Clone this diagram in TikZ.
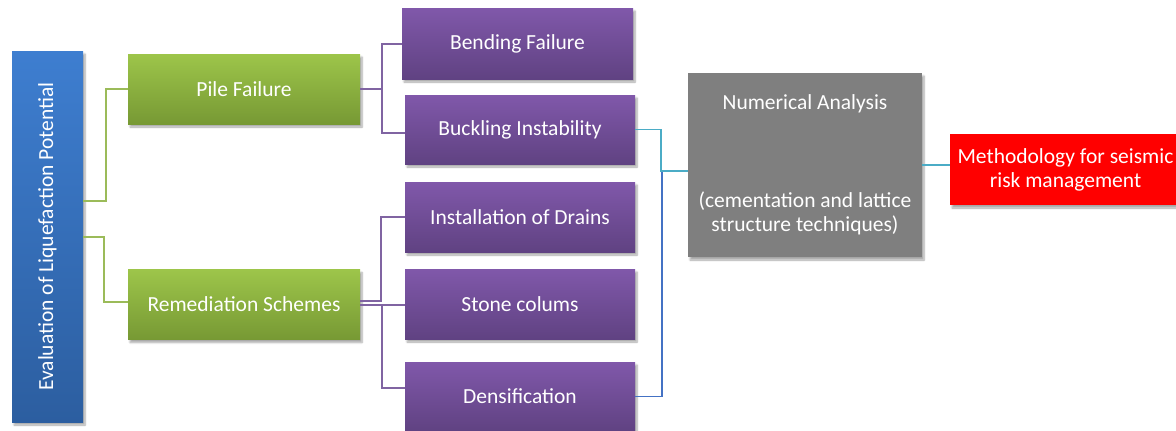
\documentclass[tikz,border=0pt]{standalone}
\usepackage{fontspec}
\setmainfont{Carlito}
\usetikzlibrary{calc,shadows.blur}

\definecolor{bluetop}{RGB}{62,126,208}
\definecolor{bluebot}{RGB}{44,94,160}
\definecolor{greentop}{RGB}{157,197,74}
\definecolor{greenbot}{RGB}{119,153,52}
\definecolor{purptop}{RGB}{128,88,170}
\definecolor{purpbot}{RGB}{96,66,130}
\definecolor{graybox}{RGB}{127,127,127}
\definecolor{redbox}{RGB}{255,0,0}
\definecolor{glinec}{RGB}{155,187,89}
\definecolor{plinec}{RGB}{128,100,162}
\definecolor{clinec}{RGB}{75,172,198}
\definecolor{blinec}{RGB}{68,114,196}

\begin{document}
\begin{tikzpicture}[x=1pt,y=-1pt,
  box/.style={rectangle, inner sep=0pt, text=white, align=center,
    font=\fontsize{21.5}{24}\selectfont,
    blur shadow={shadow xshift=2pt, shadow yshift=-3pt,
      shadow blur steps=6, shadow opacity=35}},
  evalbox/.style={box, minimum width=71pt, minimum height=371pt,
    top color=bluetop, bottom color=bluebot},
  greenbox/.style={box, minimum width=232pt, minimum height=70pt,
    top color=greentop, bottom color=greenbot},
  purpbox/.style={box, minimum width=230pt, minimum height=70pt,
    top color=purptop, bottom color=purpbot},
  gline/.style={draw=glinec, line width=2pt},
  pline/.style={draw=plinec, line width=2pt},
  cline/.style={draw=clinec, line width=1.6pt},
  bline/.style={draw=blinec, line width=1.6pt}]

\useasboundingbox (0,0) rectangle (1176,431);

% boxes
\node[evalbox] (eval) at (47.5,236.5) {\rotatebox{90}{Evaluation of Liquefaction Potential}};

\node[greenbox] (pile) at (244,89) {Pile Failure};
\node[greenbox] (rem) at (244,304.5) {Remediation Schemes};

\node[purpbox, minimum width=231pt, minimum height=71pt] (bend) at (517.5,43.5) {Bending Failure};
\node[purpbox, minimum height=69pt] (buck) at (520,129.5) {Buckling Instability};
\node[purpbox] (drain) at (520,217) {Installation of Drains};
\node[purpbox] (stone) at (520,304) {Stone colums};
\node[purpbox, minimum height=69pt] (dens) at (520,396.5) {Densification};

\node[box, fill=graybox, minimum width=234pt, minimum height=184pt] (num) at (805,165)
  {Numerical Analysis\\[73.5pt](cementation and lattice\\structure techniques)};

\node[box, fill=redbox, minimum width=231pt, minimum height=71pt] (meth) at (1065.5,169.5)
  {Methodology for seismic\\risk management};

% connectors from the evaluation column
\draw[gline] ($(eval.east)+(0,-35.5)$) -- ++(23,0) |- (pile.west);
\draw[gline] ($(eval.east)+(0,0.5)$) -- ++(21,0) |- ($(rem.west)+(0,-2.5)$);

% pile failure branches
\draw[pline] (pile.east) -- ++(22,0) coordinate (pj) |- (bend.west);
\draw[pline] (pj) |- ($(buck.west)+(0,3.5)$);

% remediation branches
\draw[pline] ($(rem.east)+(0,-3.5)$) -- ++(21,0) |- (drain.west);
\draw[pline] ($(rem.east)+(0,0.5)$) -- ($(stone.west)+(0,1)$);
\draw[pline] ($(rem.east)+(22,0.5)$) |- ($(dens.west)+(0,-8.5)$);

% links into the numerical analysis
\draw[bline] (dens.east) -- ++(27,0) |- ($(num.west)+(0,6)$);
\draw[cline] (buck.east) -- ++(26,0) |- ($(num.west)+(0,6)$);

% link to the methodology
\draw[cline, line width=1.2pt] (num.east) -- (num.east -| meth.west);
\end{tikzpicture}
\end{document}
